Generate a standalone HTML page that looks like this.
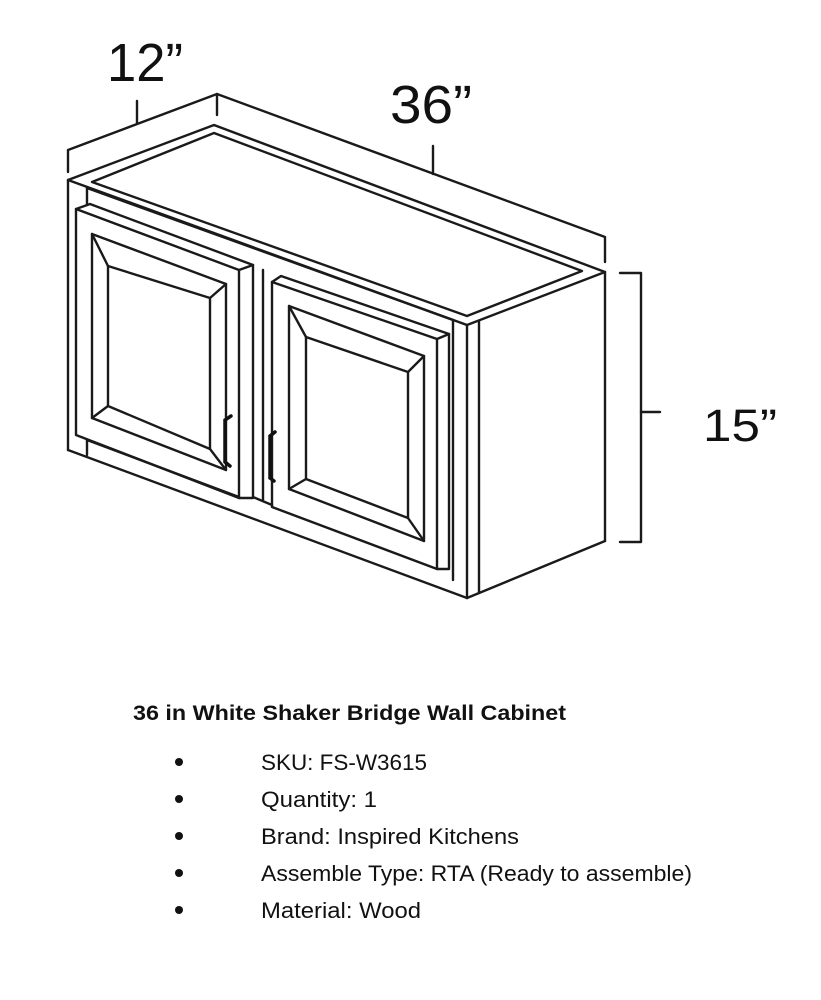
<!DOCTYPE html>
<html><head><meta charset="utf-8"><style>
html,body{margin:0;padding:0;background:#fff;}
svg{display:block;}
</style></head><body>
<svg width="821" height="1000" viewBox="0 0 821 1000" xmlns="http://www.w3.org/2000/svg">
<g fill="none" stroke="#1a1a1a" stroke-width="2.4" stroke-linejoin="round" stroke-linecap="round">
<polyline points="68,172 68,150 217,94 605,237 605,262"/>
<line x1="137" y1="101" x2="137" y2="123"/>
<line x1="217" y1="94" x2="217" y2="115"/>
<line x1="433" y1="146" x2="433" y2="174"/>
<polyline points="620,273 641,273 641,542 620,542"/>
<line x1="641" y1="412" x2="660" y2="412"/>
<polygon points="68,180 214,125 605,272 467,325"/>
<polygon points="92,182 214,133 582,271 467,316"/>
<line x1="68" y1="180" x2="68" y2="450"/>
<line x1="68" y1="450" x2="467" y2="598"/>
<line x1="467" y1="325" x2="467" y2="598"/>
<line x1="605" y1="272" x2="605" y2="541"/>
<line x1="467" y1="598" x2="605" y2="541"/>
<line x1="479" y1="321" x2="479" y2="593"/>
<line x1="453" y1="320" x2="453" y2="580"/>
<line x1="87" y1="188" x2="453" y2="320"/>
<line x1="87" y1="188" x2="87" y2="205"/>
<line x1="87" y1="440" x2="87" y2="455"/>
<line x1="87" y1="440" x2="239" y2="497"/>
<line x1="253" y1="497" x2="272" y2="505"/>
<line x1="263" y1="270" x2="263" y2="500"/>
<polygon points="76,209 90,204 253,265 239,270"/>
<polyline points="76,209 76,435 239,498 239,270"/>
<polyline points="239,498 253,498 253,265"/>
<polygon points="92,234 226,284 226,470 92,418"/>
<polygon points="108,266 210,298 210,449 108,406"/>
<line x1="92" y1="234" x2="108" y2="266"/>
<line x1="226" y1="284" x2="210" y2="298"/>
<line x1="226" y1="470" x2="210" y2="449"/>
<line x1="92" y1="418" x2="108" y2="406"/>
<polygon points="272,282 281,276 449,334 437,339"/>
<polyline points="272,282 272,507 437,569 437,339"/>
<polyline points="437,569 449,569 449,334"/>
<polygon points="289,306 424,356 424,541 289,489"/>
<polygon points="306,337 408,372 408,518 306,479"/>
<line x1="289" y1="306" x2="306" y2="337"/>
<line x1="424" y1="356" x2="408" y2="372"/>
<line x1="424" y1="541" x2="408" y2="518"/>
<line x1="289" y1="489" x2="306" y2="479"/>
</g>
<g fill="none" stroke="#111" stroke-width="3.5" stroke-linecap="round">
<polyline points="231,416 225,420 225,462 230,466"/>
<polyline points="275,432 270,436 270,478 274,481"/>
</g>
<g fill="#111" font-family="Liberation Sans, sans-serif">
<text x="107" y="81" font-size="54" textLength="76" lengthAdjust="spacingAndGlyphs">12”</text>
<text x="390" y="123" font-size="54" textLength="82" lengthAdjust="spacingAndGlyphs">36”</text>
<text x="703" y="441" font-size="45" textLength="74" lengthAdjust="spacingAndGlyphs">15”</text>
<text x="133" y="720" font-size="21" font-weight="bold" textLength="433" lengthAdjust="spacingAndGlyphs">36 in White Shaker Bridge Wall Cabinet</text>
<circle cx="179" cy="762" r="4"/>
<circle cx="179" cy="799" r="4"/>
<circle cx="179" cy="836" r="4"/>
<circle cx="179" cy="873" r="4"/>
<circle cx="179" cy="910" r="4"/>
<text x="261" y="770" font-size="22" textLength="166" lengthAdjust="spacingAndGlyphs">SKU: FS-W3615</text>
<text x="261" y="807" font-size="22" textLength="116" lengthAdjust="spacingAndGlyphs">Quantity: 1</text>
<text x="261" y="844" font-size="22" textLength="258" lengthAdjust="spacingAndGlyphs">Brand: Inspired Kitchens</text>
<text x="261" y="881" font-size="22" textLength="431" lengthAdjust="spacingAndGlyphs">Assemble Type: RTA (Ready to assemble)</text>
<text x="261" y="918" font-size="22" textLength="160" lengthAdjust="spacingAndGlyphs">Material: Wood</text>
</g>
</svg>
</body></html>
